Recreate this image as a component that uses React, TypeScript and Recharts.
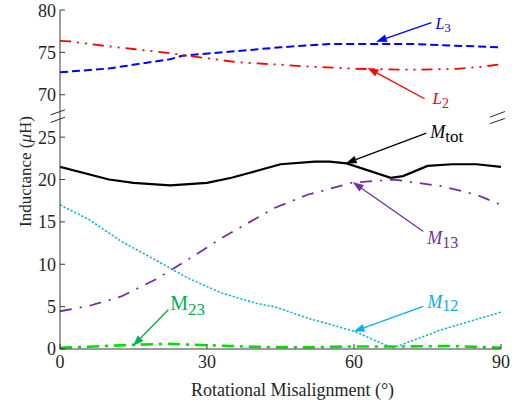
import React from 'react';
import { LineChart, Line, XAxis, YAxis, ReferenceLine, ReferenceArea } from 'recharts';

// ---------------- data ----------------
// Values above the axis break (L2, L3) are drawn shifted down by BREAK_OFFSET.
const BREAK_OFFSET = 40;
const BREAK_AT = 27.5;

const xTicks = [0, 30, 60, 90];
const yTicks = [0, 5, 10, 15, 20, 25, 30, 35, 40];

const l3Angles = [0, 10, 22.5, 25, 45, 55, 72, 80, 90];
const l3Values = [72.65, 73.1, 74.2, 74.6, 75.6, 76.0, 76.0, 75.8, 75.6];

const l2Angles = [0, 2, 10, 15, 22.5, 30, 36, 40, 45, 50, 61, 72, 81, 86, 90];
const l2Values = [76.35, 76.3, 75.7, 75.4, 74.9, 74.3, 73.85, 73.7, 73.55, 73.35, 73.05, 72.95, 73.05, 73.3, 73.6];

const mtotAngles = [0, 10, 15, 22.5, 30, 35, 45, 52, 55, 58.5, 67.5, 70, 75, 80, 85, 90];
const mtotValues = [21.5, 20.0, 19.6, 19.3, 19.6, 20.2, 21.8, 22.1, 22.1, 21.9, 20.2, 20.4, 21.6, 21.8, 21.8, 21.5];

const m13Angles = [0, 6, 12.5, 19.5, 26, 33, 40, 44, 50.5, 59.5, 68, 78, 85, 90];
const m13Values = [4.45, 5.1, 6.2, 8.2, 10.5, 13.1, 15.4, 16.7, 18.2, 19.6, 20.0, 19.2, 18.2, 17.0];

const m12Angles = [0, 6, 12.5, 19.5, 26, 33, 40, 44, 50.5, 60, 67.7, 69.7, 78, 90];
const m12Values = [17.0, 15.25, 12.7, 10.5, 8.4, 6.6, 5.4, 4.95, 3.65, 2.1, 0.15, 0.5, 2.3, 4.35];

const m23Angles = [0, 7, 15, 22, 30, 40, 50, 60, 70, 80, 90];
const m23Values = [0.15, 0.3, 0.5, 0.6, 0.45, 0.25, 0.2, 0.3, 0.3, 0.35, 0.15];

// annotation arrows: [startAngle, startValue] -> [tipAngle, tipValue] (plot values)
const annL3 = { from: [75.8, 78.5], to: [64.6, 76.27] };
const annL2 = { from: [74.4, 69.53], to: [62.86, 73.14] };
const annMtot = { from: [74.76, 25.47], to: [58.43, 21.93] };
const annM13 = { from: [74.15, 13.87], to: [59.86, 19.65] };
const annM12 = { from: [74.15, 5.02], to: [60.06, 2.08] };
const annM23 = { from: [22.1, 4.63], to: [15.0, 0.42] };

// ---------------- helpers ----------------
const FONT = '"Liberation Serif", "Times New Roman", serif';
const AXIS = '#3a3a3a';

const build = (angles: number[], values: number[], offset = 0) =>
  angles.map((a, i) => ({ angle: a, v: values[i] - offset }));

const plotY = (v: number) => (v > BREAK_AT + 10 ? v - BREAK_OFFSET : v);

const l3Data = build(l3Angles, l3Values, BREAK_OFFSET);
const l2Data = build(l2Angles, l2Values, BREAK_OFFSET);
const mtotData = build(mtotAngles, mtotValues);
const m13Data = build(m13Angles, m13Values);
const m12Data = build(m12Angles, m12Values);
const m23Data = build(m23Angles, m23Values);

const yTickFmt = (v: number) => String(v > BREAK_AT ? v + BREAK_OFFSET : v);

type LabelSpec = {
  main: string;
  sub: string;
  italic: boolean;
  mainSize: number;
  subSize: number;
  subDy: number;
  dx: number;
  dy: number;
  color: string;
};

const makeArrow = (spec: LabelSpec) => (props: any) => {
  const { x1, y1, x2, y2 } = props;
  if (![x1, y1, x2, y2].every((n) => typeof n === 'number' && isFinite(n))) return <g />;
  const dx = x2 - x1;
  const dy = y2 - y1;
  const len = Math.sqrt(dx * dx + dy * dy) || 1;
  const ux = dx / len;
  const uy = dy / len;
  const L = 10;
  const W = 3.6;
  const bx = x2 - ux * L;
  const by = y2 - uy * L;
  const p = `${x2},${y2} ${bx - uy * W},${by + ux * W} ${bx + uy * W},${by - ux * W}`;
  return (
    <g>
      <line x1={x1} y1={y1} x2={bx} y2={by} stroke={spec.color} strokeWidth={1.3} />
      <polygon points={p} fill={spec.color} stroke={spec.color} strokeWidth={0.5} />
      <text x={x1 + spec.dx} y={y1 + spec.dy} fill={spec.color} fontFamily={FONT}>
        <tspan fontSize={spec.mainSize} fontStyle={spec.italic ? 'italic' : 'normal'}>
          {spec.main}
        </tspan>
        <tspan fontSize={spec.subSize} dy={spec.subDy}>
          {spec.sub}
        </tspan>
      </text>
    </g>
  );
};

const arrowL3 = makeArrow({ main: 'L', sub: '3', italic: true, mainSize: 16, subSize: 13, subDy: 3, dx: 4, dy: 6, color: '#0000ff' });
const arrowL2 = makeArrow({ main: 'L', sub: '2', italic: true, mainSize: 17, subSize: 14, subDy: 4, dx: 8, dy: 5, color: '#ff0000' });
const arrowMtot = makeArrow({ main: 'M', sub: 'tot', italic: true, mainSize: 18, subSize: 17, subDy: 4, dx: 4, dy: 5, color: '#000000' });
const arrowM13 = makeArrow({ main: 'M', sub: '13', italic: true, mainSize: 18, subSize: 16, subDy: 4, dx: 4, dy: 13, color: '#7030a0' });
const arrowM12 = makeArrow({ main: 'M', sub: '12', italic: true, mainSize: 18, subSize: 16, subDy: 3, dx: 4, dy: 2, color: '#00b0f0' });
const arrowM23 = makeArrow({ main: 'M', sub: '23', italic: false, mainSize: 20, subSize: 17, subDy: 5, dx: 2, dy: 0, color: '#00b050' });

const XLabel = (props: any) => {
  const vb = props.viewBox || {};
  return (
    <text x={vb.x + vb.width / 2 + 12} y={vb.y + 47} textAnchor="middle" fontFamily={FONT} fontSize={18} fill="#262626">
      Rotational Misalignment (°)
    </text>
  );
};

const YLabel = (props: any) => {
  const vb = props.viewBox || {};
  const cx = 25;
  const cy = vb.y + vb.height / 2 - 8;
  return (
    <text
      x={cx}
      y={cy}
      textAnchor="middle"
      dominantBaseline="central"
      transform={`rotate(-90 ${cx} ${cy})`}
      fontFamily={FONT}
      fontSize={17}
      fill="#262626"
    >
      Inductance (<tspan fontStyle="italic">μ</tspan>H)
    </text>
  );
};

const seg = (a: number[], b: number[]) => [
  { x: a[0], y: a[1] },
  { x: b[0], y: b[1] },
];

const tickStyle = { fontSize: 18, fill: '#262626', fontFamily: FONT };

export default function App() {
  return (
    <div style={{ position: 'absolute', left: 0, top: 0, background: '#fff' }}>
      <LineChart width={518} height={407} margin={{ top: 10, right: 17, bottom: 0, left: 0 }}>
        <XAxis
          xAxisId={0}
          dataKey="angle"
          type="number"
          domain={[0, 90]}
          ticks={xTicks}
          allowDataOverflow
          height={58}
          stroke={AXIS}
          tickSize={-5}
          tickMargin={11}
          tick={tickStyle}
          label={<XLabel />}
        />
        <XAxis
          xAxisId="top"
          orientation="top"
          dataKey="angle"
          type="number"
          domain={[0, 90]}
          ticks={xTicks}
          allowDataOverflow
          height={0}
          stroke={AXIS}
          tickSize={-5}
          tickFormatter={() => ''}
        />
        <YAxis
          yAxisId={0}
          type="number"
          domain={[0, 40]}
          ticks={yTicks}
          allowDataOverflow
          width={60}
          stroke={AXIS}
          tickSize={-5}
          tickMargin={9}
          tick={tickStyle}
          tickFormatter={yTickFmt}
          label={<YLabel />}
        />
        <YAxis
          yAxisId="right"
          orientation="right"
          type="number"
          domain={[0, 40]}
          ticks={yTicks}
          allowDataOverflow
          width={0}
          stroke={AXIS}
          tickSize={-5}
          tickFormatter={() => ''}
        />

        <Line data={l3Data} dataKey="v" type="linear" stroke="#0000ff" strokeWidth={2} strokeDasharray="8 4" dot={false} isAnimationActive={false} />
        <Line data={l2Data} dataKey="v" type="linear" stroke="#ff0000" strokeWidth={1.8} strokeDasharray="11 6 2 6 2 6" dot={false} isAnimationActive={false} />
        <Line data={mtotData} dataKey="v" type="linear" stroke="#000000" strokeWidth={2.2} dot={false} isAnimationActive={false} />
        <Line data={m13Data} dataKey="v" type="linear" stroke="#7030a0" strokeWidth={1.8} strokeDasharray="12 8 2 8" dot={false} isAnimationActive={false} />
        <Line data={m12Data} dataKey="v" type="linear" stroke="#00b0f0" strokeWidth={1.6} strokeDasharray="2 2" dot={false} isAnimationActive={false} />
        <Line data={m23Data} dataKey="v" type="linear" stroke="#00e000" strokeWidth={2.6} strokeDasharray="12 6 3 6" dot={false} isAnimationActive={false} />

        {/* axis breaks */}
        <ReferenceArea x1={-0.35} x2={0.35} y1={27.0} y2={27.85} fill="#ffffff" fillOpacity={1} stroke="none" ifOverflow="visible" />
        <ReferenceArea x1={89.65} x2={90.35} y1={26.95} y2={27.6} fill="#ffffff" fillOpacity={1} stroke="none" ifOverflow="visible" />
        <ReferenceLine segment={seg([-1.9, 27.63], [1.02, 28.22])} stroke="#262626" strokeWidth={1} ifOverflow="visible" />
        <ReferenceLine segment={seg([-1.9, 26.72], [1.02, 27.36])} stroke="#262626" strokeWidth={1} ifOverflow="visible" />
        <ReferenceLine segment={seg([87.76, 27.36], [90.8, 28.02])} stroke="#262626" strokeWidth={1} ifOverflow="visible" />
        <ReferenceLine segment={seg([87.76, 26.6], [90.8, 27.2])} stroke="#262626" strokeWidth={1} ifOverflow="visible" />

        {/* annotations */}
        <ReferenceLine segment={seg([annL3.from[0], plotY(annL3.from[1])], [annL3.to[0], plotY(annL3.to[1])])} ifOverflow="visible" shape={arrowL3} />
        <ReferenceLine segment={seg([annL2.from[0], plotY(annL2.from[1])], [annL2.to[0], plotY(annL2.to[1])])} ifOverflow="visible" shape={arrowL2} />
        <ReferenceLine segment={seg(annMtot.from, annMtot.to)} ifOverflow="visible" shape={arrowMtot} />
        <ReferenceLine segment={seg(annM13.from, annM13.to)} ifOverflow="visible" shape={arrowM13} />
        <ReferenceLine segment={seg(annM12.from, annM12.to)} ifOverflow="visible" shape={arrowM12} />
        <ReferenceLine segment={seg(annM23.from, annM23.to)} ifOverflow="visible" shape={arrowM23} />
      </LineChart>
    </div>
  );
}
